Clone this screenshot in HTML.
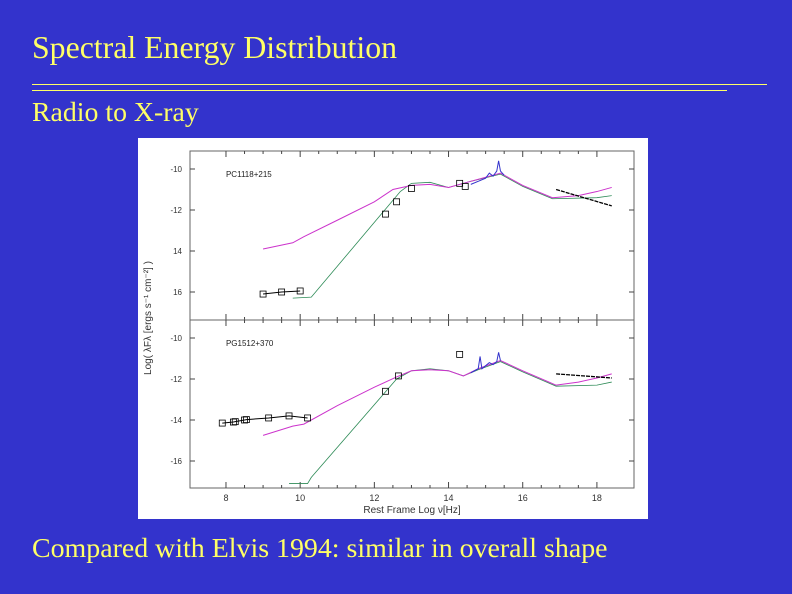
<!DOCTYPE html>
<html><head><meta charset="utf-8"><style>
body{margin:0;width:792px;height:594px;background:#3333cc;overflow:hidden;position:relative;font-family:"Liberation Serif",serif;color:#ffff66}
.t{position:absolute;white-space:nowrap;line-height:1}
</style></head><body>
<div class="t" style="left:32px;top:32px;font-size:31.8px">Spectral Energy Distribution</div>
<div style="position:absolute;left:32px;top:84px;width:735px;height:1px;background:#ffff66"></div>
<div style="position:absolute;left:32px;top:90px;width:695px;height:1px;background:#ffff66"></div>
<div class="t" style="left:32px;top:99px;font-size:27.8px">Radio to X-ray</div>
<div class="t" style="left:32px;top:535px;font-size:27.9px">Compared with Elvis 1994: similar in overall shape</div>
<svg id="chart" style="position:absolute;left:138px;top:138px" width="510" height="381" viewBox="138 138 510 381" font-family="Liberation Sans, sans-serif">
<rect x="138" y="138" width="510" height="381" fill="#fff"/>
</svg>
<script>
const xTicks=[8,10,12,14,16,18];
const topTickLabels=["-10","-12","14","16"];
const topTickValues=[-10,-12,-14,-16];
const botTickLabels=["-10","-12","-14","-16"];
const botTickValues=[-10,-12,-14,-16];
const topMagenta=[[9,-13.9],[9.8,-13.6],[10.1,-13.3],[11,-12.5],[12,-11.6],[12.5,-11.0],[13,-10.8],[13.5,-10.75],[14,-10.9],[14.6,-10.6],[15.4,-10.2],[16,-10.8],[16.8,-11.4],[17.5,-11.3],[18,-11.1],[18.4,-10.9]];
const topGreen=[[9.8,-16.3],[10.3,-16.25],[12.7,-11.1],[13,-10.7],[13.5,-10.65],[14,-10.9],[14.6,-10.6],[15.4,-10.25],[16,-10.85],[16.8,-11.45],[18,-11.4],[18.4,-11.3]];
const topBlue=[[14.6,-10.75],[14.8,-10.6],[15.0,-10.45],[15.1,-10.2],[15.2,-10.35],[15.3,-10.1],[15.35,-9.6],[15.4,-10.1],[15.5,-10.3]];
const topBoxes=[[9.0,-16.1],[9.5,-16.0],[10.0,-15.95],[12.3,-12.2],[12.6,-11.6],[13.0,-10.95],[14.3,-10.7],[14.45,-10.85]];
const topXray=[[16.9,-11.0],[18.4,-11.8]];
const botMagenta=[[9,-14.75],[9.8,-14.3],[10.1,-14.2],[11,-13.3],[12,-12.4],[12.6,-11.9],[13,-11.6],[13.5,-11.55],[14,-11.6],[14.4,-11.85],[14.8,-11.5],[15.4,-11.1],[16,-11.6],[16.9,-12.3],[17.5,-12.15],[18,-11.95],[18.4,-11.75]];
const botGreen=[[9.7,-17.1],[10.2,-17.1],[10.3,-16.8],[12.6,-12.0],[13,-11.6],[13.5,-11.5],[14,-11.6],[14.4,-11.85],[14.8,-11.55],[15.4,-11.15],[16,-11.65],[16.9,-12.35],[18,-12.3],[18.4,-12.15]];
const botBlue=[[14.6,-11.7],[14.8,-11.5],[14.85,-10.9],[14.9,-11.5],[15.1,-11.2],[15.2,-11.3],[15.3,-11.15],[15.35,-10.7],[15.4,-11.1]];
const botBoxes=[[7.9,-14.15],[8.2,-14.1],[8.25,-14.08],[8.5,-14.0],[8.55,-13.98],[9.15,-13.9],[9.7,-13.8],[10.2,-13.9],[12.3,-12.6],[12.65,-11.85],[14.3,-10.8]];
const botXray=[[16.9,-11.75],[18.4,-11.95]];

const svg=document.getElementById('chart');const NS='http://www.w3.org/2000/svg';
const X0=190,X1=634,xmin=7.03,xmax=19.0;
const xs=v=>X0+(v-xmin)/(xmax-xmin)*(X1-X0);
const panels=[{top:151,bot:320,y10:169},{top:320,bot:488,y10:338}];
const ysFor=p=>v=>p.y10+(-10-v)*20.5;
function el(tag,attrs){const e=document.createElementNS(NS,tag);for(const k in attrs)e.setAttribute(k,attrs[k]);svg.appendChild(e);return e;}
function line(pts,ys,color,w,name,dash){const e=el('polyline',{points:pts.map(p=>xs(p[0])+','+ys(p[1])).join(' '),fill:'none',stroke:color,'stroke-width':w});if(dash)e.setAttribute('stroke-dasharray',dash);

return e;}
function panel(p,mag,grn,blu,boxes,xr,labels,vals,name,prefix){
  const ys=ysFor(p);
  const f=el('rect',{x:X0,y:p.top,width:X1-X0,height:p.bot-p.top,fill:'none',stroke:'#666','stroke-width':1});
  
  
  vals.forEach((v,i)=>{const y=ys(v);el('line',{x1:X0,x2:X0+5,y1:y,y2:y,stroke:'#444'});el('line',{x1:X1-5,x2:X1,y1:y,y2:y,stroke:'#444'});
    const t=el('text',{x:X0-8,y:y+3,'font-size':8,'text-anchor':'end',fill:'#333'});t.textContent=labels[i];
    
    });
  for(let v=8;v<=18;v+=0.5){const x=xs(v);const l=(v%2===0)?6:3;el('line',{x1:x,x2:x,y1:p.bot,y2:p.bot-l,stroke:'#444'});el('line',{x1:x,x2:x,y1:p.top,y2:p.top+l,stroke:'#444'});}
  const n=el('text',{x:xs(8),y:ys(-10.4),'font-size':8,fill:'#222'});n.textContent=name;
  
  
  line(grn,ys,'#2e8b57',0.8,prefix+'-green-model');
  line(mag,ys,'#cc33cc',1,prefix+'-magenta-model');
  line(blu,ys,'#3333cc',1,prefix+'-blue-spectrum');
  line(boxes.filter(b=>b[0]<11),ys,'#000',1,prefix+'-radio-data');
  line(xr,ys,'#000',1.3,prefix+'-xray-slope','4,1');
  boxes.forEach(b=>{const r=el('rect',{x:xs(b[0])-3,y:ys(b[1])-3,width:6,height:6,fill:'none',stroke:'#000','stroke-width':0.8});
    
    });
}
panel(panels[0],topMagenta,topGreen,topBlue,topBoxes,topXray,topTickLabels,topTickValues,'PC1118+215','top');
panel(panels[1],botMagenta,botGreen,botBlue,botBoxes,botXray,botTickLabels,botTickValues,'PG1512+370','bottom');
xTicks.forEach(v=>{const t=el('text',{x:xs(v),y:501,'font-size':9,'text-anchor':'middle',fill:'#333'});t.textContent=v;
  
  });
const xt=el('text',{x:412,y:513,'font-size':10,'text-anchor':'middle',fill:'#333'});xt.textContent='Rest Frame Log \u03bd[Hz]';


const yt=el('text',{x:0,y:0,'font-size':10,'text-anchor':'middle',fill:'#333',transform:'translate(151,318) rotate(-90)'});yt.textContent='Log( \u03bbF\u03bb [ergs s\u207b\u00b9 cm\u207b\u00b2] )';


</script>
</body></html>
